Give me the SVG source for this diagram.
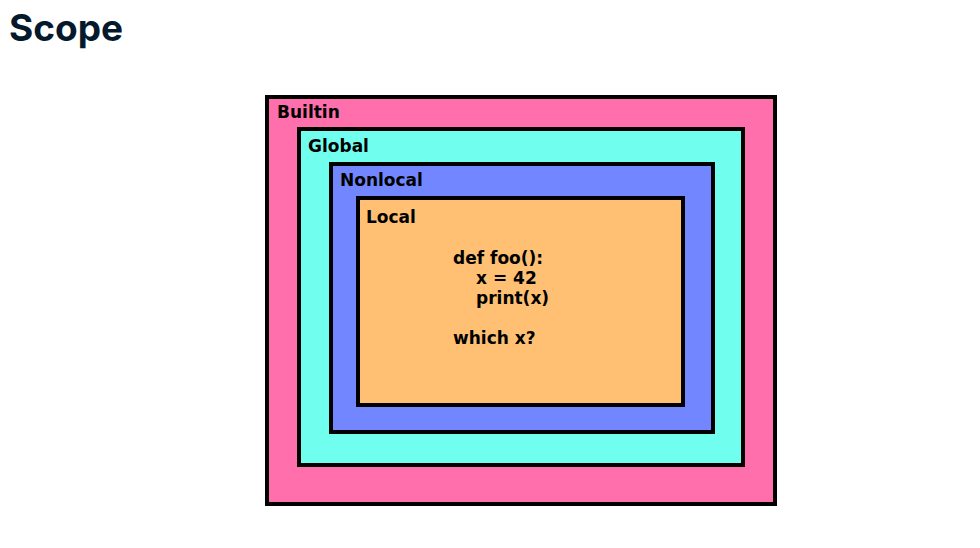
<svg xmlns="http://www.w3.org/2000/svg" width="980" height="548" viewBox="0 0 980 548">
<style>
.box{stroke:#000;stroke-width:4}
.lbl{font-family:"DejaVu Sans",sans-serif;font-weight:bold;font-size:17px;fill:#000}
.title{font-family:Inter,"Liberation Sans",sans-serif;font-weight:bold;font-size:37px;fill:#05192d}
</style>
<rect width="980" height="548" fill="#fff"/>
<text class="title" x="9" y="41">Scope</text>
<g id="builtin">
<rect class="box" x="267" y="97" width="508" height="407" fill="#ff6fab"/>
<text class="lbl" x="277" y="118">Builtin</text>
</g>
<g id="global">
<rect class="box" x="299" y="129" width="444" height="336" fill="#70ffef"/>
<text class="lbl" x="308" y="152">Global</text>
</g>
<g id="nonlocal">
<rect class="box" x="331" y="164" width="382" height="268" fill="#7286ff"/>
<text class="lbl" x="340" y="186">Nonlocal</text>
</g>
<g id="local">
<rect class="box" x="358" y="198" width="325" height="207" fill="#ffc073"/>
<text class="lbl" x="366" y="223">Local</text>
<text class="lbl" x="453" y="264">def foo():</text>
<text class="lbl" x="476" y="284">x = 42</text>
<text class="lbl" x="476" y="304">print(x)</text>
<text class="lbl" x="453" y="344">which x?</text>
</g>
<g id="connectors"/>
</svg>
